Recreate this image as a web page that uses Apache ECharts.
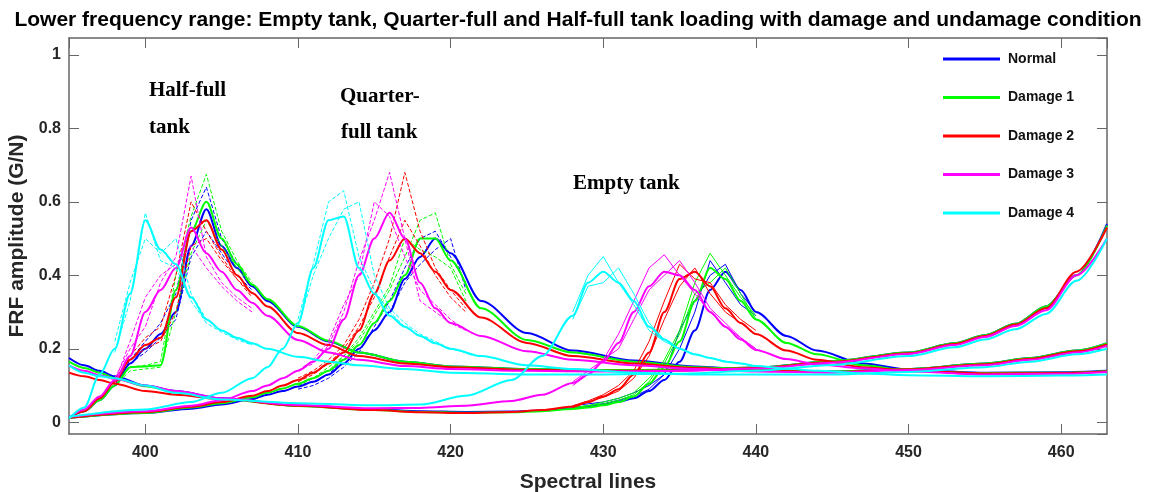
<!DOCTYPE html>
<html>
<head>
<meta charset="utf-8">
<script src="https://cdn.jsdelivr.net/npm/echarts@6/dist/echarts.min.js"></script>
<style>
  html, body { margin: 0; padding: 0; background: #fff; }
  #chart { width: 1156px; height: 492px; }
</style>
</head>
<body>
<div id="chart"></div>
<script>
// 条件名称与颜色
const conditions = ['Normal', 'Damage 1', 'Damage 2', 'Damage 3', 'Damage 4'];
const colors = ['#0000ff', '#00ff00', '#ff0000', '#ff00ff', '#00ffff'];

// Half-full tank
const halfX = [395, 396, 397, 398, 399, 400, 401, 402, 403, 404, 405, 406, 407, 408, 410, 412, 414, 417, 420, 425, 430, 435, 440, 445, 450, 453, 455, 457, 459, 461, 463];
const halfNormal = [0.012, 0.03, 0.06, 0.1, 0.16, 0.2, 0.24, 0.3, 0.48, 0.58, 0.48, 0.42, 0.37, 0.33, 0.26, 0.22, 0.19, 0.165, 0.152, 0.145, 0.142, 0.143, 0.149, 0.166, 0.19, 0.215, 0.237, 0.268, 0.315, 0.4, 0.54];
const halfD1 = [0.012, 0.03, 0.06, 0.1, 0.15, 0.152, 0.155, 0.36, 0.52, 0.6, 0.5, 0.43, 0.375, 0.335, 0.262, 0.222, 0.19, 0.165, 0.152, 0.145, 0.142, 0.143, 0.149, 0.166, 0.19, 0.215, 0.237, 0.268, 0.315, 0.4, 0.535];
const halfD2 = [0.012, 0.03, 0.065, 0.11, 0.17, 0.21, 0.23, 0.34, 0.52, 0.55, 0.47, 0.4, 0.352, 0.315, 0.243, 0.21, 0.18, 0.16, 0.15, 0.143, 0.14, 0.141, 0.148, 0.164, 0.188, 0.213, 0.235, 0.266, 0.31, 0.41, 0.53];
const halfD3 = [0.012, 0.035, 0.07, 0.115, 0.18, 0.3, 0.36, 0.42, 0.53, 0.46, 0.41, 0.36, 0.325, 0.29, 0.224, 0.19, 0.17, 0.153, 0.145, 0.14, 0.138, 0.14, 0.146, 0.162, 0.186, 0.21, 0.232, 0.262, 0.305, 0.4, 0.5];
const halfD4 = [0.01, 0.04, 0.13, 0.2, 0.35, 0.55, 0.47, 0.43, 0.34, 0.28, 0.25, 0.23, 0.215, 0.2, 0.178, 0.165, 0.155, 0.145, 0.135, 0.13, 0.13, 0.132, 0.14, 0.156, 0.18, 0.204, 0.225, 0.253, 0.295, 0.385, 0.5];
// half-full peak repeats (dashed)
const halfPeakX = [398, 399, 400, 401, 402, 403, 404, 405, 406, 407];
const halfNormalRep = [[0.1, 0.17, 0.22, 0.27, 0.35, 0.55, 0.64, 0.5, 0.43, 0.37], [0.11, 0.16, 0.19, 0.23, 0.28, 0.45, 0.52, 0.46, 0.4, 0.36]];
const halfD1Rep = [[0.1, 0.15, 0.155, 0.165, 0.4, 0.56, 0.675, 0.52, 0.44, 0.38], [0.1, 0.14, 0.145, 0.15, 0.3, 0.46, 0.55, 0.48, 0.42, 0.37]];
const halfD2Rep = [[0.11, 0.18, 0.23, 0.26, 0.4, 0.6, 0.52, 0.45, 0.39, 0.35], [0.12, 0.17, 0.2, 0.22, 0.3, 0.48, 0.5, 0.44, 0.39, 0.34]];
const halfD3Rep = [[0.12, 0.2, 0.26, 0.38, 0.45, 0.67, 0.45, 0.38, 0.34, 0.31], [0.11, 0.22, 0.34, 0.4, 0.43, 0.48, 0.42, 0.37, 0.33, 0.3]];
const halfD4Rep = [[0.22, 0.38, 0.5, 0.46, 0.5, 0.35, 0.28, 0.25, 0.23, 0.21], [0.19, 0.33, 0.57, 0.44, 0.42, 0.33, 0.27, 0.245, 0.225, 0.21]];

// Quarter-full tank
const quarterX = [395, 400, 403, 405, 407, 408, 409, 410, 411, 412, 413, 414, 415, 416, 417, 418, 419, 420, 422, 425, 428, 432, 436, 440, 445, 450, 455, 458, 461, 463];
const quarterNormal = [0.012, 0.025, 0.037, 0.048, 0.063, 0.075, 0.085, 0.097, 0.11, 0.13, 0.16, 0.2, 0.25, 0.3, 0.39, 0.45, 0.5, 0.46, 0.33, 0.243, 0.195, 0.168, 0.152, 0.142, 0.138, 0.145, 0.16, 0.175, 0.195, 0.215];
const quarterD1 = [0.012, 0.025, 0.04, 0.052, 0.068, 0.08, 0.092, 0.105, 0.12, 0.14, 0.17, 0.21, 0.27, 0.33, 0.4, 0.5, 0.5, 0.44, 0.31, 0.224, 0.19, 0.165, 0.15, 0.142, 0.138, 0.145, 0.16, 0.175, 0.195, 0.215];
const quarterD2 = [0.012, 0.027, 0.042, 0.055, 0.072, 0.085, 0.1, 0.115, 0.135, 0.16, 0.19, 0.25, 0.35, 0.44, 0.5, 0.46, 0.41, 0.36, 0.285, 0.216, 0.18, 0.16, 0.148, 0.14, 0.137, 0.144, 0.158, 0.173, 0.193, 0.212];
const quarterD3 = [0.015, 0.03, 0.045, 0.06, 0.085, 0.1, 0.12, 0.14, 0.165, 0.2, 0.28, 0.4, 0.5, 0.57, 0.5, 0.38, 0.31, 0.27, 0.235, 0.193, 0.17, 0.155, 0.145, 0.138, 0.135, 0.142, 0.155, 0.17, 0.19, 0.208];
const quarterD4 = [0.015, 0.035, 0.055, 0.08, 0.12, 0.15, 0.2, 0.27, 0.42, 0.55, 0.56, 0.42, 0.35, 0.29, 0.26, 0.235, 0.215, 0.2, 0.18, 0.155, 0.145, 0.135, 0.13, 0.13, 0.13, 0.137, 0.15, 0.165, 0.185, 0.2];
const quarterPeakX = [410, 411, 412, 413, 414, 415, 416, 417, 418, 419, 420, 421];
const quarterNormalRep = [[0.09, 0.1, 0.12, 0.15, 0.19, 0.26, 0.33, 0.42, 0.5, 0.52, 0.45, 0.38], [0.1, 0.11, 0.13, 0.17, 0.21, 0.25, 0.3, 0.38, 0.43, 0.47, 0.5, 0.36]];
const quarterD1Rep = [[0.1, 0.12, 0.14, 0.18, 0.22, 0.29, 0.36, 0.45, 0.55, 0.57, 0.43, 0.35], [0.1, 0.12, 0.15, 0.18, 0.23, 0.3, 0.37, 0.5, 0.47, 0.45, 0.42, 0.33]];
const quarterD2Rep = [[0.12, 0.14, 0.17, 0.21, 0.28, 0.38, 0.5, 0.68, 0.52, 0.42, 0.36, 0.31], [0.11, 0.13, 0.16, 0.2, 0.26, 0.34, 0.45, 0.55, 0.48, 0.4, 0.34, 0.3]];
const quarterD3Rep = [[0.14, 0.16, 0.21, 0.3, 0.44, 0.55, 0.68, 0.5, 0.33, 0.3, 0.27, 0.25], [0.14, 0.17, 0.22, 0.32, 0.4, 0.6, 0.56, 0.45, 0.36, 0.32, 0.28, 0.25]];
const quarterD4Rep = [[0.28, 0.43, 0.6, 0.63, 0.45, 0.36, 0.3, 0.26, 0.235, 0.215, 0.2, 0.19], [0.26, 0.4, 0.5, 0.58, 0.6, 0.4, 0.31, 0.27, 0.24, 0.22, 0.2, 0.19]];

// Empty tank
const emptyX = [395, 396, 397, 398, 400, 402, 405, 410, 415, 418, 421, 424, 426, 428, 429, 430, 431, 432, 433, 434, 435, 436, 437, 438, 439, 440, 442, 444, 447, 450, 455, 460, 463];
const emptyNormal = [0.175, 0.155, 0.14, 0.125, 0.1, 0.085, 0.065, 0.045, 0.035, 0.03, 0.028, 0.029, 0.032, 0.038, 0.042, 0.048, 0.056, 0.065, 0.085, 0.115, 0.165, 0.25, 0.36, 0.41, 0.36, 0.3, 0.235, 0.195, 0.16, 0.143, 0.135, 0.136, 0.14];
const emptyD1 = [0.165, 0.148, 0.135, 0.12, 0.098, 0.083, 0.063, 0.044, 0.033, 0.028, 0.026, 0.027, 0.03, 0.036, 0.04, 0.046, 0.055, 0.07, 0.105, 0.15, 0.22, 0.33, 0.42, 0.39, 0.33, 0.28, 0.216, 0.185, 0.155, 0.14, 0.134, 0.135, 0.139];
const emptyD2 = [0.135, 0.125, 0.115, 0.105, 0.085, 0.075, 0.063, 0.045, 0.033, 0.027, 0.025, 0.028, 0.033, 0.043, 0.055, 0.07, 0.09, 0.13, 0.19, 0.3, 0.39, 0.41, 0.37, 0.31, 0.27, 0.24, 0.195, 0.17, 0.15, 0.14, 0.133, 0.134, 0.138];
const emptyD3 = [0.155, 0.14, 0.128, 0.118, 0.1, 0.085, 0.065, 0.047, 0.038, 0.039, 0.045, 0.058, 0.075, 0.107, 0.13, 0.165, 0.216, 0.3, 0.37, 0.41, 0.4, 0.36, 0.3, 0.26, 0.225, 0.197, 0.172, 0.158, 0.147, 0.138, 0.13, 0.132, 0.137];
const emptyD4 = [0.155, 0.135, 0.125, 0.12, 0.1, 0.08, 0.062, 0.052, 0.046, 0.048, 0.072, 0.115, 0.18, 0.29, 0.38, 0.41, 0.38, 0.33, 0.26, 0.225, 0.2, 0.185, 0.175, 0.165, 0.16, 0.153, 0.146, 0.14, 0.133, 0.128, 0.125, 0.127, 0.13];
const emptyPeakX = [428, 429, 430, 431, 432, 433, 434, 435, 436, 437, 438, 439, 440];
const emptyNormalRep = [[0.04, 0.045, 0.05, 0.06, 0.07, 0.09, 0.13, 0.2, 0.3, 0.44, 0.38, 0.32, 0.29], [0.045, 0.05, 0.055, 0.065, 0.08, 0.1, 0.13, 0.25, 0.33, 0.4, 0.43, 0.35, 0.3]];
const emptyD1Rep = [[0.04, 0.045, 0.05, 0.06, 0.075, 0.11, 0.17, 0.25, 0.38, 0.46, 0.4, 0.34, 0.29], [0.04, 0.045, 0.055, 0.065, 0.08, 0.12, 0.16, 0.24, 0.35, 0.38, 0.42, 0.35, 0.28]];
const emptyD2Rep = [[0.045, 0.058, 0.075, 0.1, 0.14, 0.22, 0.33, 0.43, 0.39, 0.38, 0.32, 0.28, 0.25], [0.04, 0.055, 0.068, 0.085, 0.12, 0.18, 0.28, 0.37, 0.42, 0.35, 0.3, 0.27, 0.24]];
const emptyD3Rep = [[0.1, 0.13, 0.17, 0.24, 0.33, 0.42, 0.456, 0.4, 0.35, 0.3, 0.26, 0.23, 0.2], [0.11, 0.14, 0.17, 0.2, 0.28, 0.36, 0.4, 0.44, 0.38, 0.31, 0.27, 0.23, 0.2]];
const emptyD4Rep = [[0.3, 0.4, 0.451, 0.38, 0.32, 0.25, 0.22, 0.2, 0.185, 0.175, 0.166, 0.16, 0.153], [0.28, 0.37, 0.38, 0.42, 0.35, 0.27, 0.225, 0.2, 0.185, 0.175, 0.166, 0.16, 0.153]];

const xTicks = [400, 410, 420, 430, 440, 450, 460];
const yTicks = [0, 0.2, 0.4, 0.6, 0.8, 1];

const groups = [
  { x: halfX, main: [halfNormal, halfD1, halfD2, halfD3, halfD4], px: halfPeakX, rep: [halfNormalRep, halfD1Rep, halfD2Rep, halfD3Rep, halfD4Rep], dash: 'dashed' },
  { x: quarterX, main: [quarterNormal, quarterD1, quarterD2, quarterD3, quarterD4], px: quarterPeakX, rep: [quarterNormalRep, quarterD1Rep, quarterD2Rep, quarterD3Rep, quarterD4Rep], dash: 'dashed' },
  { x: emptyX, main: [emptyNormal, emptyD1, emptyD2, emptyD3, emptyD4], px: emptyPeakX, rep: [emptyNormalRep, emptyD1Rep, emptyD2Rep, emptyD3Rep, emptyD4Rep], dash: 'solid' },
];

function line(name, color, xs, ys, width, type, smooth) {
  return {
    name: name,
    type: 'line',
    data: xs.map((x, i) => [x, ys[i]]),
    showSymbol: false,
    symbol: 'none',
    smooth: smooth,
    smoothMonotone: 'x',
    silent: true,
    itemStyle: { color: color },
    lineStyle: { color: color, width: width, type: type },
  };
}

const series = [];
conditions.forEach((name, c) => {
  groups.forEach((g) => {
    series.push(line(name, colors[c], g.x, g.main[c], 2, 'solid', 0.3));
    g.rep[c].forEach((ys) => {
      series.push(line(name, colors[c], g.px, ys, 1, g.dash, false));
    });
  });
});

const font = 'Liberation Sans, Arial, sans-serif';
const axisColor = '#666';
const labelStyle = { color: '#262626', fontSize: 16, fontWeight: 'bold', fontFamily: font };
const noteStyle = { fill: '#000', font: 'bold 21px "Liberation Serif", "Times New Roman", serif' };

const chart = echarts.init(document.getElementById('chart'), null, { renderer: 'canvas' });
chart.setOption({
  animation: false,
  backgroundColor: '#fff',
  title: {
    text: 'Lower frequency range: Empty tank, Quarter-full and Half-full tank loading with damage and undamage condition',
    left: 'center',
    top: 5,
    textStyle: { color: '#000', fontSize: 21, fontWeight: 'bold', fontFamily: font },
  },
  legend: {
    data: conditions,
    orient: 'vertical',
    left: 943,
    top: 52,
    padding: 0,
    icon: 'rect',
    itemWidth: 57,
    itemHeight: 3,
    itemGap: 24.5,
    textStyle: { color: '#111', fontSize: 14, fontWeight: 'bold', lineHeight: 14, padding: [0, 0, 0, 3], fontFamily: font },
  },
  grid: { left: 69, right: 49, top: 38, bottom: 58, outerBoundsMode: 'none', containLabel: false },
  xAxis: [
    {
      type: 'value', min: 395, max: 463,
      name: 'Spectral lines', nameLocation: 'middle', nameGap: 38,
      nameTextStyle: { color: '#262626', fontSize: 21, fontWeight: 'bold', fontFamily: font },
      axisLine: { onZero: false, lineStyle: { color: axisColor, width: 1.5 } },
      axisTick: { inside: true, length: 10, lineStyle: { color: axisColor } },
      axisLabel: Object.assign({ margin: 11, showMinLabel: false, showMaxLabel: false, formatter: (v) => (xTicks.includes(v) ? String(v) : '') }, labelStyle),
      splitLine: { show: false },
    },
    {
      type: 'value', min: 395, max: 463, position: 'top',
      axisLine: { onZero: false, lineStyle: { color: axisColor, width: 1.5 } },
      axisTick: { inside: true, length: 10, lineStyle: { color: axisColor } },
      axisLabel: { show: false },
      splitLine: { show: false },
    },
  ],
  yAxis: [
    {
      type: 'value', min: -0.032, max: 1.046,
      name: 'FRF amplitude (G/N)', nameLocation: 'middle', nameGap: 37,
      nameTextStyle: { color: '#262626', fontSize: 21, fontWeight: 'bold', fontFamily: font },
      axisLine: { onZero: false, lineStyle: { color: axisColor, width: 1.5 } },
      axisTick: { inside: true, length: 10, lineStyle: { color: axisColor } },
      axisLabel: Object.assign({ margin: 8, showMinLabel: false, showMaxLabel: false, formatter: (v) => {
        const t = yTicks.find((k) => Math.abs(k - v) < 1e-6);
        return t === undefined ? '' : String(t);
      } }, labelStyle),
      splitLine: { show: false },
    },
    {
      type: 'value', min: -0.032, max: 1.046, position: 'right',
      axisLine: { onZero: false, lineStyle: { color: axisColor, width: 1.5 } },
      axisTick: { inside: true, length: 10, lineStyle: { color: axisColor } },
      axisLabel: { show: false },
      splitLine: { show: false },
    },
  ],
  graphic: [
    { type: 'text', left: 149, top: 80, style: Object.assign({ text: 'Half-full' }, noteStyle) },
    { type: 'text', left: 149, top: 117, style: Object.assign({ text: 'tank' }, noteStyle) },
    { type: 'text', left: 340, top: 86, style: Object.assign({ text: 'Quarter-' }, noteStyle) },
    { type: 'text', left: 341, top: 122, style: Object.assign({ text: 'full tank' }, noteStyle) },
    { type: 'text', left: 573, top: 173, style: Object.assign({ text: 'Empty tank' }, noteStyle) },
  ],
  series: series,
});
</script>
</body>
</html>
